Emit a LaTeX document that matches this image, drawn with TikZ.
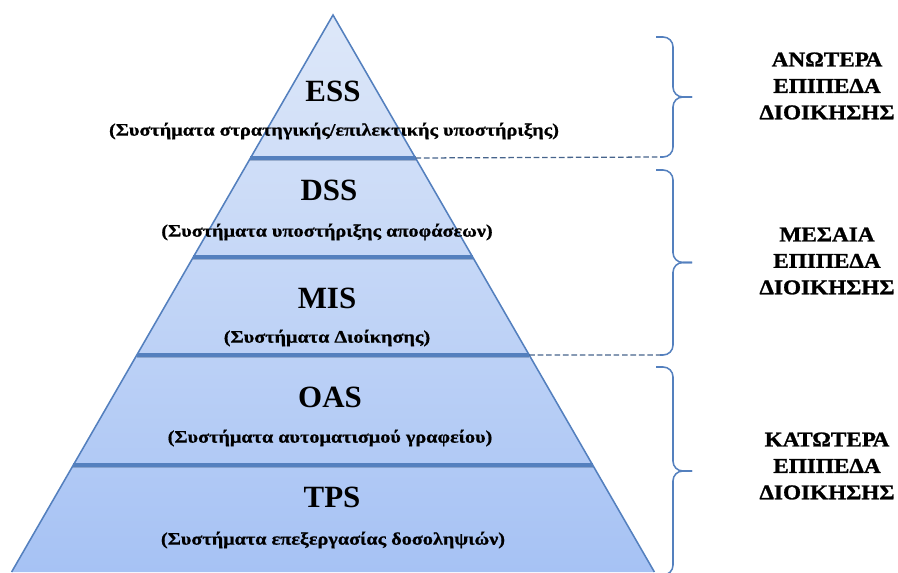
\documentclass[tikz,border=0pt]{standalone}
\usepackage{fontspec}
\setmainfont{Liberation Serif}
\newfontfamily\subtitlefont[FakeStretch=1.15, FakeBold=0.8]{Liberation Serif}
\newfontfamily\levelfont[FakeStretch=1.1, FakeBold=1.2]{Liberation Serif}
\usetikzlibrary{calc}

\definecolor{pyrtop}{RGB}{222,232,249}
\definecolor{pyrbot}{RGB}{166,194,244}
\definecolor{pyrline}{RGB}{84,128,190}
\definecolor{dashline}{RGB}{70,100,140}

\begin{document}
\begin{tikzpicture}[x=0.025cm, y=-0.025cm,
    acronym/.style={font=\bfseries\fontsize{22}{24}\selectfont, inner sep=0pt},
    subtitle/.style={font=\subtitlefont\bfseries\fontsize{12.5}{14}\selectfont, inner sep=0pt},
    levelname/.style={font=\levelfont\bfseries\fontsize{15}{18.8}\selectfont, align=center, inner sep=0pt},
    sepline/.style={pyrline, line width=2.2pt},
    sepshadow/.style={pyrline!70!black, line width=1pt, opacity=0.35},
    guide/.style={dashline, dash pattern=on 4pt off 2pt, line width=0.9pt},
    bracket/.style={pyrline, line width=1.1pt, rounded corners=7pt}]
    \useasboundingbox (0,0) rectangle (898,572);

    % pyramid
    \coordinate (apex) at (333,15);
    \coordinate (baseL) at (11.6,572);
    \coordinate (baseR) at (654.4,572);
    \shade[top color=pyrtop, bottom color=pyrbot] (apex) -- (baseL) -- (baseR) -- cycle;

    % level borders
    \foreach \n/\y in {1/158, 2/257, 3/355, 4/465} {
        \pgfmathsetmacro{\t}{(\y-15)/557}
        \coordinate (sep\n L) at ($(apex)!\t!(baseL)$);
        \coordinate (sep\n R) at ($(apex)!\t!(baseR)$);
    }
    \foreach \n in {1,...,4} {
        \draw[sepshadow] ([yshift=-1.8pt]sep\n L) -- ([yshift=-1.8pt]sep\n R);
        \draw[sepline] (sep\n L) -- (sep\n R);
    }
    \draw[pyrline, line width=1.1pt] (baseL) -- (apex) -- (baseR);

    % texts
    \node[acronym] (ess) at (333,91) {ESS};
    \node[subtitle] (esst) at (334,131) {(Συστήματα στρατηγικής/επιλεκτικής υποστήριξης)};
    \node[acronym] (dss) at (329,190) {DSS};
    \node[subtitle] (dsst) at (327,232) {(Συστήματα υποστήριξης αποφάσεων)};
    \node[acronym] (mis) at (327,298) {MIS};
    \node[subtitle] (mist) at (327,338) {(Συστήματα Διοίκησης)};
    \node[acronym] (oas) at (330,397) {OAS};
    \node[subtitle] (oast) at (330,438) {(Συστήματα αυτοματισμού γραφείου)};
    \node[acronym] (tps) at (332,497) {TPS};
    \node[subtitle] (tpst) at (333,540) {(Συστήματα επεξεργασίας δοσοληψιών)};

    % braces
    \foreach \n/\ya/\yb in {1/37/157, 2/170/355, 3/367/575} {
        \pgfmathsetmacro{\ym}{(\ya+\yb)/2}
        \coordinate (br\n t) at (656,\ya);
        \coordinate (br\n b) at (660,\yb);
        \coordinate (br\n m) at (692,\ym);
        \draw[bracket] (br\n t) -- (673,\ya) -- (673,\ym) -- (br\n m);
        \draw[bracket] (br\n b) -- (673,\yb) -- (673,\ym) -- (br\n m);
    }

    \draw[guide] (sep1R) -- (br1b);
    \draw[guide] (sep3R) -- (br2b);

    \node[levelname] (upper) at (827,86) {ΑΝΩΤΕΡΑ\\ΕΠΙΠΕΔΑ\\ΔΙΟΙΚΗΣΗΣ};
    \node[levelname] (middle) at (827,261) {ΜΕΣΑΙΑ\\ΕΠΙΠΕΔΑ\\ΔΙΟΙΚΗΣΗΣ};
    \node[levelname] (lower) at (827,466) {ΚΑΤΩΤΕΡΑ\\ΕΠΙΠΕΔΑ\\ΔΙΟΙΚΗΣΗΣ};
\end{tikzpicture}
\end{document}
